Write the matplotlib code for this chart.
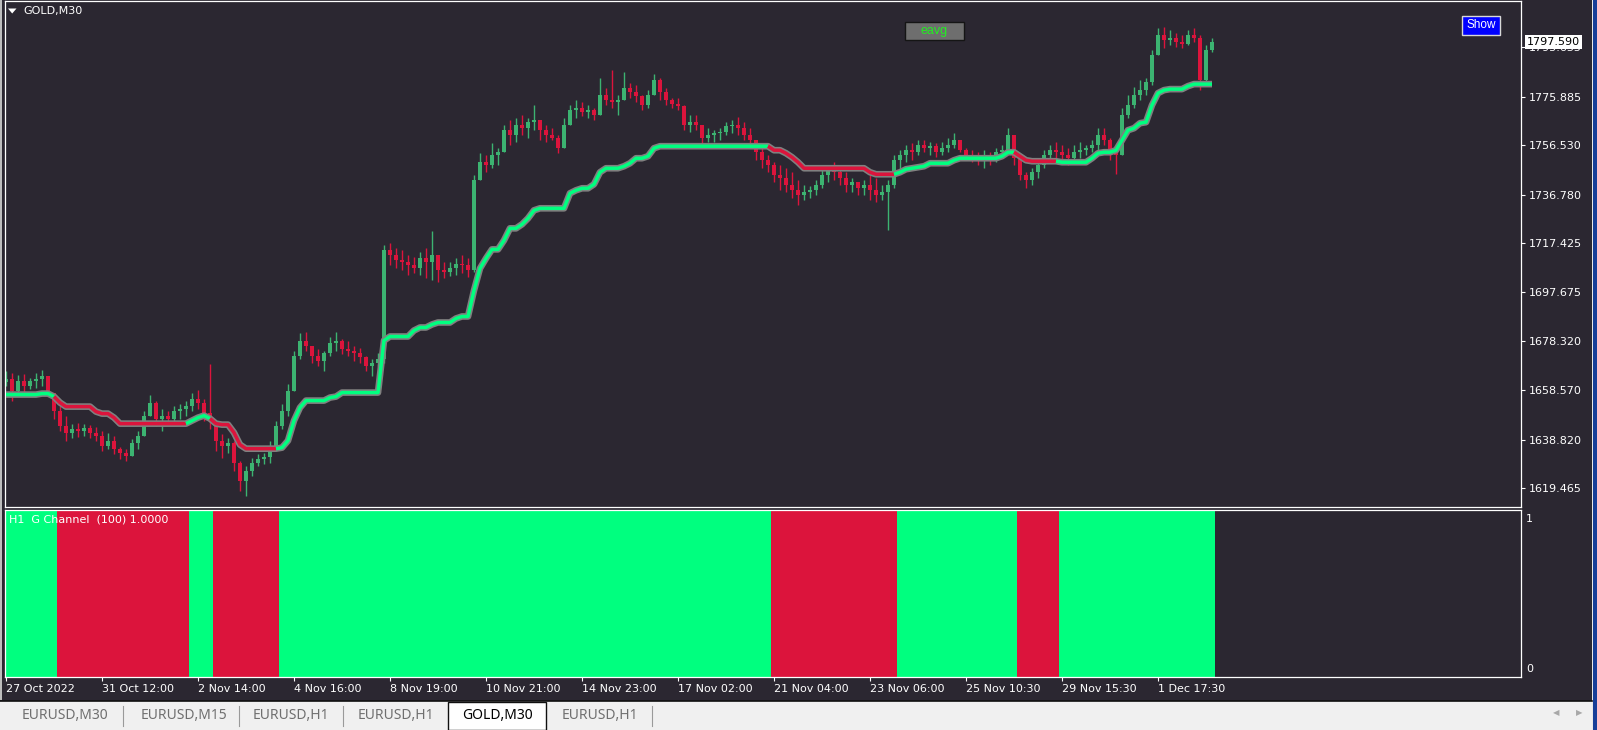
import numpy as np
import matplotlib
matplotlib.use("Agg")
import matplotlib.pyplot as plt
import matplotlib.transforms as mtransforms
from matplotlib.patches import Rectangle, Polygon
from matplotlib.lines import Line2D

plt.rcParams['font.family'] = ['DejaVu Sans']

# ---------------- data (GOLD, M30, sampled bars) ----------------
open_first = 1662.0
high = [
    1666.5, 1665.7, 1664.9, 1665.3, 1663.7, 1665.7, 1666.9, 1663.3, 1656.5, 1652.5,
    1648.5, 1645.3, 1645.7, 1645.3, 1644.9, 1644.1, 1642.5, 1641.7, 1640.5, 1636.1,
    1635.3, 1639.3, 1642.5, 1650.5, 1656.9, 1654.5, 1651.3, 1650.5, 1652.5, 1653.3,
    1654.5, 1657.7, 1658.9, 1655.3, 1669.3, 1646.5, 1641.3, 1639.7, 1638.5, 1630.5,
    1628.5, 1631.7, 1633.3, 1633.7, 1638.5, 1646.5, 1653.3, 1661.3, 1674.5, 1681.3,
    1681.7, 1676.5, 1675.3, 1674.5, 1679.7, 1681.7, 1679.3, 1678.5, 1676.5, 1675.7,
    1672.5, 1671.3, 1673.7, 1716.5, 1717.3, 1715.3, 1714.5, 1712.5, 1711.7, 1713.7,
    1715.3, 1722.1, 1712.5, 1709.7, 1709.7, 1711.3, 1712.5, 1711.3, 1744.5, 1753.3,
    1752.5, 1757.3, 1755.3, 1764.5, 1766.5, 1767.3, 1768.5, 1767.3, 1772.5, 1765.7,
    1764.5, 1763.3, 1760.5, 1767.3, 1772.5, 1774.5, 1773.7, 1772.5, 1771.3, 1783.3,
    1779.3, 1786.5, 1776.5, 1785.7, 1781.3, 1780.5, 1776.5, 1778.5, 1784.9, 1783.3,
    1779.3, 1775.3, 1775.3, 1772.5, 1768.5, 1768.5, 1764.5, 1763.3, 1762.5, 1763.3,
    1765.7, 1766.5, 1767.7, 1765.7, 1763.3, 1758.5, 1755.3, 1752.5, 1749.7, 1748.5,
    1747.3, 1745.7, 1742.5, 1740.5, 1740.1, 1742.5, 1746.5, 1748.5, 1749.7, 1747.3,
    1745.7, 1743.3, 1741.7, 1742.5, 1744.5, 1743.3, 1740.5, 1742.5, 1752.5, 1754.5,
    1756.5, 1757.3, 1758.5, 1758.5, 1757.7, 1757.3, 1757.7, 1759.3, 1761.3, 1758.5,
    1755.3, 1754.5, 1753.7, 1754.5, 1753.7, 1755.3, 1756.5, 1763.3, 1760.5, 1750.5,
    1745.7, 1747.3, 1749.7, 1754.5, 1756.5, 1757.7, 1756.5, 1755.3, 1756.5, 1757.7,
    1756.5, 1758.5, 1763.3, 1763.3, 1759.3, 1756.5, 1771.3, 1776.5, 1779.7, 1782.5,
    1783.3, 1794.5, 1803.3, 1803.7, 1802.5, 1801.3, 1800.5, 1802.5, 1803.3, 1800.5,
    1796.5, 1799.3,
]
low = [
    1660.5, 1654.5, 1657.7, 1657.3, 1659.3, 1659.7, 1660.5, 1656.5, 1647.3, 1642.5,
    1638.5, 1639.7, 1640.1, 1640.5, 1639.7, 1638.5, 1634.5, 1635.3, 1633.3, 1631.3,
    1630.5, 1633.7, 1635.3, 1641.7, 1649.7, 1644.5, 1642.5, 1645.3, 1646.5, 1647.3,
    1648.5, 1650.5, 1651.3, 1646.5, 1643.3, 1634.5, 1631.7, 1633.7, 1626.5, 1618.5,
    1616.5, 1624.5, 1628.5, 1629.3, 1629.7, 1636.5, 1643.3, 1648.5, 1660.5, 1671.3,
    1674.5, 1669.7, 1668.5, 1666.5, 1672.5, 1674.5, 1673.3, 1672.5, 1670.5, 1669.7,
    1666.5, 1664.5, 1668.5, 1669.7, 1708.5, 1707.3, 1706.5, 1704.5, 1705.3, 1704.5,
    1703.3, 1702.5, 1701.7, 1703.3, 1704.1, 1704.5, 1705.3, 1703.7, 1705.7, 1744.5,
    1745.7, 1747.3, 1748.5, 1754.5, 1756.5, 1757.7, 1760.5, 1759.3, 1762.5, 1758.5,
    1757.7, 1758.5, 1753.3, 1755.3, 1764.5, 1767.3, 1768.1, 1767.3, 1766.5, 1768.5,
    1772.5, 1771.3, 1768.5, 1774.5, 1775.3, 1773.7, 1770.5, 1771.3, 1776.5, 1774.5,
    1772.5, 1771.3, 1770.5, 1762.5, 1761.7, 1762.5, 1756.5, 1757.7, 1757.7, 1758.5,
    1760.5, 1761.3, 1760.5, 1758.5, 1756.5, 1750.5, 1747.3, 1745.7, 1741.7, 1738.5,
    1737.7, 1735.3, 1732.5, 1734.5, 1735.3, 1736.5, 1739.3, 1741.7, 1742.5, 1740.5,
    1737.7, 1737.7, 1736.5, 1736.5, 1734.5, 1733.7, 1734.5, 1722.5, 1739.3, 1746.5,
    1749.7, 1750.5, 1752.5, 1753.7, 1752.5, 1751.7, 1752.5, 1753.7, 1755.3, 1753.7,
    1751.3, 1749.7, 1748.5, 1747.3, 1748.5, 1749.7, 1751.3, 1754.5, 1748.5, 1742.5,
    1739.3, 1740.5, 1743.3, 1747.3, 1750.5, 1751.3, 1749.7, 1748.5, 1750.5, 1751.3,
    1752.5, 1753.7, 1754.5, 1756.5, 1750.5, 1744.9, 1754.5, 1767.3, 1771.3, 1774.5,
    1776.5, 1780.5, 1792.5, 1795.3, 1796.5, 1795.7, 1795.3, 1796.5, 1797.7, 1778.5,
    1781.7, 1793.7,
]
close = [
    1663.3, 1658.5, 1662.5, 1660.5, 1662.5, 1663.3, 1664.5, 1657.7, 1650.5, 1644.5,
    1641.7, 1643.3, 1642.5, 1643.7, 1641.7, 1640.5, 1636.5, 1638.5, 1635.3, 1633.7,
    1632.5, 1637.7, 1640.5, 1648.5, 1653.7, 1647.3, 1648.5, 1647.3, 1650.5, 1651.3,
    1652.5, 1655.3, 1653.7, 1649.7, 1646.5, 1638.5, 1636.5, 1637.7, 1629.7, 1622.5,
    1626.5, 1629.7, 1631.3, 1632.1, 1636.5, 1644.5, 1650.5, 1658.5, 1672.5, 1678.5,
    1676.5, 1672.5, 1670.5, 1673.7, 1677.7, 1678.5, 1675.3, 1674.5, 1673.7, 1672.1,
    1668.5, 1669.7, 1671.3, 1714.5, 1712.5, 1710.5, 1709.7, 1708.5, 1707.3, 1711.3,
    1709.7, 1712.5, 1706.5, 1705.7, 1707.3, 1708.9, 1708.5, 1706.5, 1742.5, 1749.7,
    1748.5, 1752.5, 1753.7, 1762.5, 1760.5, 1764.5, 1763.3, 1765.7, 1766.5, 1762.5,
    1760.5, 1759.3, 1755.3, 1764.5, 1770.5, 1771.3, 1769.7, 1770.5, 1768.5, 1776.5,
    1774.5, 1773.7, 1774.5, 1779.3, 1777.7, 1776.1, 1772.5, 1776.5, 1782.5, 1777.7,
    1774.5, 1772.9, 1772.1, 1764.5, 1765.7, 1764.5, 1759.3, 1760.5, 1761.3, 1761.7,
    1764.1, 1764.5, 1763.3, 1760.5, 1758.5, 1753.7, 1750.5, 1748.5, 1744.5, 1743.3,
    1740.5, 1738.5, 1736.5, 1737.7, 1738.5, 1740.5, 1744.5, 1746.5, 1745.7, 1743.3,
    1740.5, 1741.7, 1739.3, 1740.5, 1738.5, 1736.5, 1737.7, 1740.5, 1750.5, 1752.5,
    1754.5, 1753.7, 1756.5, 1755.3, 1756.1, 1753.7, 1755.3, 1756.5, 1758.5, 1754.5,
    1752.5, 1752.1, 1750.5, 1752.5, 1751.3, 1753.7, 1754.5, 1760.5, 1751.3, 1744.5,
    1742.5, 1745.7, 1748.5, 1752.5, 1754.5, 1753.7, 1752.5, 1751.3, 1753.7, 1754.5,
    1755.3, 1756.5, 1760.5, 1758.5, 1753.7, 1752.5, 1768.5, 1772.5, 1776.5, 1778.5,
    1781.7, 1792.5, 1800.5, 1798.5, 1799.3, 1797.7, 1796.9, 1800.5, 1799.3, 1782.5,
    1794.5, 1797.59,
]
channel = [
    1656.9, 1656.9, 1656.9, 1656.9, 1656.9, 1656.9, 1657.3, 1657.3, 1656.1, 1653.7,
    1652.1, 1652.1, 1652.1, 1652.1, 1652.1, 1650.1, 1649.3, 1649.3, 1647.7, 1645.3,
    1645.3, 1645.3, 1645.3, 1645.3, 1645.3, 1645.3, 1645.3, 1645.3, 1645.3, 1645.3,
    1645.3, 1646.5, 1647.7, 1648.5, 1647.3, 1645.3, 1644.9, 1644.9, 1641.7, 1636.9,
    1635.3, 1635.3, 1635.3, 1635.3, 1635.3, 1635.3, 1635.7, 1638.5, 1646.5, 1651.7,
    1654.5, 1654.5, 1654.5, 1654.5, 1655.7, 1656.1, 1657.7, 1657.7, 1657.7, 1657.7,
    1657.7, 1657.7, 1657.7, 1678.5, 1680.1, 1680.1, 1680.1, 1680.1, 1682.5, 1683.7,
    1683.7, 1684.9, 1685.7, 1685.7, 1685.7, 1687.3, 1688.1, 1688.1, 1698.5, 1707.3,
    1711.3, 1714.9, 1714.9, 1718.5, 1723.3, 1723.3, 1724.9, 1727.3, 1730.5, 1731.3,
    1731.3, 1731.3, 1731.3, 1731.3, 1737.3, 1738.5, 1739.3, 1739.3, 1740.9, 1745.7,
    1747.3, 1747.3, 1747.3, 1748.1, 1749.3, 1751.3, 1751.3, 1752.1, 1755.3, 1756.1,
    1756.1, 1756.1, 1756.1, 1756.1, 1756.1, 1756.1, 1756.1, 1756.1, 1756.1, 1756.1,
    1756.1, 1756.1, 1756.1, 1756.1, 1756.1, 1756.1, 1756.1, 1756.1, 1754.5, 1754.5,
    1753.3, 1751.7, 1749.7, 1747.3, 1747.3, 1747.3, 1747.3, 1747.3, 1747.3, 1747.3,
    1747.3, 1747.3, 1747.3, 1747.3, 1745.7, 1744.9, 1744.9, 1744.9, 1744.9, 1745.7,
    1746.9, 1747.3, 1747.7, 1748.1, 1749.3, 1749.3, 1749.3, 1749.3, 1750.5, 1751.3,
    1751.3, 1751.3, 1751.3, 1751.3, 1751.3, 1751.3, 1752.1, 1753.7, 1753.7, 1752.1,
    1750.5, 1750.1, 1750.1, 1750.1, 1750.1, 1750.1, 1749.7, 1749.7, 1749.7, 1749.7,
    1749.7, 1751.3, 1753.3, 1753.7, 1753.7, 1754.5, 1758.5, 1762.5, 1763.3, 1765.3,
    1765.7, 1772.5, 1777.3, 1778.5, 1778.9, 1778.9, 1778.9, 1780.1, 1780.9, 1780.9,
    1780.9, 1780.9,
]
# G Channel trend state (1 = up / green, 0 = down / red) as (state, number of bars)
trend_runs = [(1, 9), (0, 22), (1, 4), (0, 11), (1, 82), (0, 21), (1, 20), (0, 7), (1, 26)]

price_ticks = [1619.465, 1638.820, 1658.570, 1678.320, 1697.675,
               1717.425, 1736.780, 1756.530, 1775.885, 1795.635]
date_tick_bars = [0, 16, 32, 48, 64, 80, 96, 112, 128, 144, 160, 176, 192]
date_labels = ['27 Oct 2022', '31 Oct 12:00', '2 Nov 14:00', '4 Nov 16:00', '8 Nov 19:00',
               '10 Nov 21:00', '14 Nov 23:00', '17 Nov 02:00', '21 Nov 04:00',
               '23 Nov 06:00', '25 Nov 10:30', '29 Nov 15:30', '1 Dec 17:30']
tabs = ['EURUSD,M30', 'EURUSD,M15', 'EURUSD,H1', 'EURUSD,H1', 'GOLD,M30', 'EURUSD,H1']
active_tab = 4

# ---------------- style ----------------
W, H = 1597, 730
BG = '#2b2731'
UP_C = '#3cb371'
DN_C = '#dc143c'
CH_UP = '#00ff7f'
CH_DN = '#dc143c'
OUTLINE = '#808080'

fig = plt.figure(figsize=(W / 100, H / 100), dpi=100)
fig.patch.set_facecolor(BG)


def frect(x0, y0, x1, y1):
    return [x0 / W, 1 - y1 / H, (x1 - x0) / W, (y1 - y0) / H]


def fx(x):
    return x / W


def fy(y):
    return 1 - y / H


ax = fig.add_axes(frect(4.5, 1, 1521, 507))
ax2 = fig.add_axes(frect(4.5, 510, 1521, 676.5))
for a in (ax, ax2):
    a.set_facecolor(BG)
    for s in a.spines.values():
        s.set_color('white')
        s.set_linewidth(0.9)
    a.set_xlim(-0.25, 252.5)

N = len(close)
x = np.arange(N)
state = np.concatenate([[s] * n for s, n in trend_runs])

c = np.array(close)
o = np.concatenate([[open_first], c[:-1]])
h = np.maximum(np.array(high), np.maximum(o, c))
l = np.minimum(np.array(low), np.minimum(o, c))
colors = np.where(c >= o, UP_C, DN_C)

ax.vlines(x, l, h, colors=colors, lw=1.0, zorder=2)
ax.bar(x, np.abs(c - o), bottom=np.minimum(o, c), width=0.62, color=colors,
       linewidth=0, zorder=2)

# channel line: gray outline + colored core
ch = np.array(channel)
ax.plot(x, ch, color=OUTLINE, lw=4.8, solid_capstyle='butt', zorder=3)
start = 0
for s, n in trend_runs:
    a0 = max(start - 1, 0)
    seg = slice(a0, start + n)
    ax.plot(x[seg], ch[seg], color=CH_UP if s == 1 else CH_DN, lw=2.5,
            solid_capstyle='butt', zorder=4)
    start += n

ax.set_ylim(1612.0, 1814.1)
ax.yaxis.tick_right()
ax.set_yticks(price_ticks)
ax.set_yticklabels([f'{v:.3f}' for v in price_ticks])
ax.tick_params(axis='y', colors='white', length=3, width=0.8, pad=2.5, labelsize=8)
ax.tick_params(axis='x', bottom=False, labelbottom=False)

# current price marker
trans = mtransforms.blended_transform_factory(ax.transAxes, ax.transData)
ax.text(1 + 5.5 / 1516.5, close[-1], f'{close[-1]:.3f}', transform=trans,
        color='black', fontsize=8, va='center', ha='left', zorder=10, clip_on=False,
        bbox=dict(boxstyle='square,pad=0.18', fc='white', ec='none'))

# sub window: G Channel histogram
ax2.bar(x, np.ones(N), width=1.0, bottom=0,
        color=np.where(state == 1, CH_UP, CH_DN), linewidth=0)
ax2.set_ylim(0, 1)
ax2.set_yticks([])
ax2.set_xticks(date_tick_bars)
ax2.set_xticklabels(date_labels, ha='left')
ax2.tick_params(axis='x', colors='white', length=3, width=0.8, pad=2.5, labelsize=8)

fig.text(fx(1526), fy(519), '1', color='white', fontsize=8, va='center', ha='left')
fig.text(fx(1526), fy(669), '0', color='white', fontsize=8, va='center', ha='left')
fig.text(fx(9), fy(514), 'H1  G Channel  (100) 1.0000', color='white', fontsize=8,
         va='top', ha='left')

# chart title
fig.patches.append(Polygon([(fx(8), fy(8.5)), (fx(16.5), fy(8.5)), (fx(12.2), fy(13.5))],
                           closed=True, transform=fig.transFigure, fc='white', ec='none'))
fig.text(fx(23), fy(11), 'GOLD,M30', color='white', fontsize=8, va='center', ha='left')

# buttons
fig.patches.append(Rectangle((fx(905), fy(40)), (964 - 905) / W, (40 - 21.7) / H,
                             transform=fig.transFigure, fc='#6e6e6e', ec='#151515', lw=1))
fig.text(fx(934.5), fy(31), 'eavg', color='#22ee22', fontsize=9, va='center', ha='center',
         family='Liberation Sans')
fig.patches.append(Rectangle((fx(1462), fy(35)), (1500 - 1462) / W, (35 - 16) / H,
                             transform=fig.transFigure, fc='#0000ff', ec='#d8d8d8', lw=1))
fig.text(fx(1481), fy(25.5), 'Show', color='white', fontsize=8.5, va='center', ha='center',
         family='Liberation Sans')

# window frame pieces
fig.patches.append(Rectangle((0, fy(700)), 2 / W, 700 / H, transform=fig.transFigure,
                             fc='#bdbdbd', ec='none'))
fig.patches.append(Rectangle((fx(1592), 0), 1 / W, 1, transform=fig.transFigure,
                             fc='#e8e8e8', ec='none'))
fig.patches.append(Rectangle((fx(1593), 0), 4 / W, 1, transform=fig.transFigure,
                             fc='#173e98', ec='none'))

# tab bar
fig.patches.append(Rectangle((0, 0), 1592 / W, (730 - 701) / H, transform=fig.transFigure,
                             fc='#f0f0f0', ec='none'))
fig.lines.append(Line2D([0, fx(1592)], [fy(701), fy(701)], transform=fig.transFigure,
                        color='#101010', lw=1.2))
fig.patches.append(Rectangle((fx(448), 0), (546 - 448) / W, (730 - 701.5) / H,
                             transform=fig.transFigure, fc='white', ec='#101010', lw=1))
tab_centers = [64.5, 183.5, 291, 395.5, 497, 599.5]
for i, (t, cx) in enumerate(zip(tabs, tab_centers)):
    fig.text(fx(cx), fy(715.5), t, color='black' if i == active_tab else '#6f6f6f',
             fontsize=10, va='center', ha='center', family='Noto Sans')
for sx in [123, 239, 343, 652]:
    fig.lines.append(Line2D([fx(sx), fx(sx)], [fy(706), fy(726)], transform=fig.transFigure,
                            color='#9a9a9a', lw=0.8))
fig.text(fx(1556), fy(713), '\u25c0', color='#a8a8a8', fontsize=6, va='center', ha='center')
fig.text(fx(1579), fy(713), '\u25b6', color='#a8a8a8', fontsize=6, va='center', ha='center')

fig.savefig('out.png', dpi=100, facecolor=fig.get_facecolor())
